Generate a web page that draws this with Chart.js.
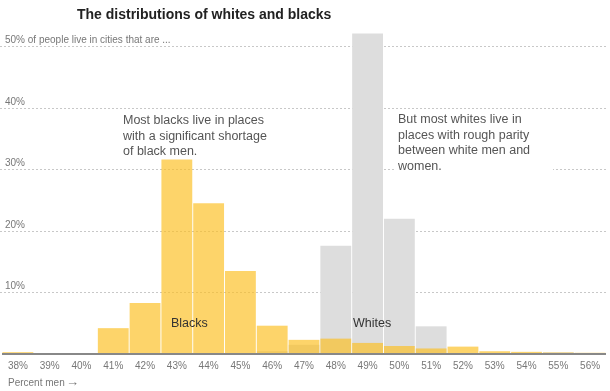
<!DOCTYPE html>
<html>
<head>
<meta charset="utf-8">
<script src="https://cdn.jsdelivr.net/npm/chart.js@4.4.1/dist/chart.umd.min.js"></script>
<style>
  html, body { margin: 0; padding: 0; background: #fff; }
  #wrap { width: 610px; height: 391px; position: relative; }
</style>
</head>
<body>
<div id="wrap"><canvas id="chart"></canvas></div>
<script>
// share of each group's population by percent men in their city
const categories = ['38%', '39%', '40%', '41%', '42%', '43%', '44%', '45%', '46%', '47%',
  '48%', '49%', '50%', '51%', '52%', '53%', '54%', '55%', '56%'];
const blacks = [0.3, 0, 0, 4.2, 8.3, 31.6, 24.5, 13.5, 4.6, 2.3,
  2.5, 1.8, 1.3, 0.9, 1.2, 0.45, 0.35, 0.25, 0.2];
const whites = [0, 0, 0, 0, 0, 0, 0, 0, 0.45, 1.5,
  17.6, 52.1, 22.0, 4.5, 0, 0, 0, 0.25, 0];
const yTicks = [10, 20, 30, 40, 50];
const yTickLabels = ['10%', '20%', '30%', '40%', '50% of people live in cities that are ...'];

const FONT = "'Liberation Sans', Arial, sans-serif";

// gridlines, y labels, annotations and the baseline are drawn by hand
const decorations = {
  id: 'decorations',
  beforeDatasetsDraw(chart) {
    const { ctx } = chart;
    const y = chart.scales.y;
    ctx.save();
    ctx.strokeStyle = '#c8c8c8';
    ctx.lineWidth = 1;
    ctx.setLineDash([2, 2]);
    ctx.font = '10px ' + FONT;
    ctx.fillStyle = '#777';
    ctx.textBaseline = 'alphabetic';
    yTicks.forEach((v, i) => {
      const py = Math.round(y.getPixelForValue(v)) + 0.5;
      ctx.beginPath();
      ctx.moveTo(0, py);
      ctx.lineTo(608, py);
      ctx.stroke();
      ctx.fillText(yTickLabels[i], 5, py - 4);
    });
    ctx.setLineDash([]);
    // white box behind the whites note (hides the 30% line only)
    ctx.fillStyle = '#fff';
    ctx.fillRect(396, 112, 157, 62);
    ctx.restore();
  },
  afterDatasetsDraw(chart) {
    const { ctx, chartArea } = chart;
    const y = chart.scales.y;
    ctx.save();
    // baseline
    const by = y.getPixelForValue(0);
    ctx.strokeStyle = '#888';
    ctx.lineWidth = 2;
    ctx.beginPath();
    ctx.moveTo(chartArea.left, by);
    ctx.lineTo(chartArea.right, by);
    ctx.stroke();

    ctx.textBaseline = 'middle';
    ctx.fillStyle = '#222';
    ctx.font = 'bold 14px ' + FONT;
    ctx.fillText('The distributions of whites and blacks', 77, 15);

    ctx.fillStyle = '#555';
    ctx.font = '12.5px ' + FONT;
    ['Most blacks live in places', 'with a significant shortage', 'of black men.']
      .forEach((t, i) => ctx.fillText(t, 123, 121 + i * 15.3));
    ['But most whites live in', 'places with rough parity', 'between white men and', 'women.']
      .forEach((t, i) => ctx.fillText(t, 398, 120 + i * 15.5));

    ctx.fillStyle = '#333';
    ctx.font = '12.5px ' + FONT;
    ctx.fillText('Blacks', 171, 324);
    ctx.fillText('Whites', 353, 324);

    ctx.fillStyle = '#777';
    ctx.font = '10px ' + FONT;
    ctx.fillText('Percent men', 8, 383);
    ctx.font = '13px ' + FONT;
    ctx.fillText('\u2192', 66, 382);
    ctx.restore();
  }
};

new Chart(document.getElementById('chart'), {
  type: 'bar',
  data: {
    labels: categories,
    datasets: [
      {
        label: 'Blacks',
        data: blacks,
        backgroundColor: 'rgba(252, 192, 36, 0.68)',
        grouped: false,
        order: 1,
        barPercentage: 0.97,
        categoryPercentage: 1
      },
      {
        label: 'Whites',
        data: whites,
        backgroundColor: '#dddddd',
        grouped: false,
        order: 2,
        barPercentage: 0.97,
        categoryPercentage: 1
      }
    ]
  },
  options: {
    responsive: true,
    maintainAspectRatio: false,
    animation: false,
    layout: { padding: { top: 31, left: 2, right: 4, bottom: 13 } },
    scales: {
      x: {
        grid: { display: false, drawTicks: false },
        border: { display: false },
        ticks: {
          color: '#777',
          font: { family: FONT, size: 10 },
          padding: 6,
          maxRotation: 0,
          autoSkip: false
        }
      },
      y: {
        min: 0,
        max: 52.5,
        grid: { display: false, drawTicks: false },
        border: { display: false },
        ticks: { display: false },
        afterFit(scale) { scale.width = 0; }
      }
    },
    plugins: {
      legend: { display: false },
      tooltip: { enabled: false }
    }
  },
  plugins: [decorations]
});
</script>
</body>
</html>
